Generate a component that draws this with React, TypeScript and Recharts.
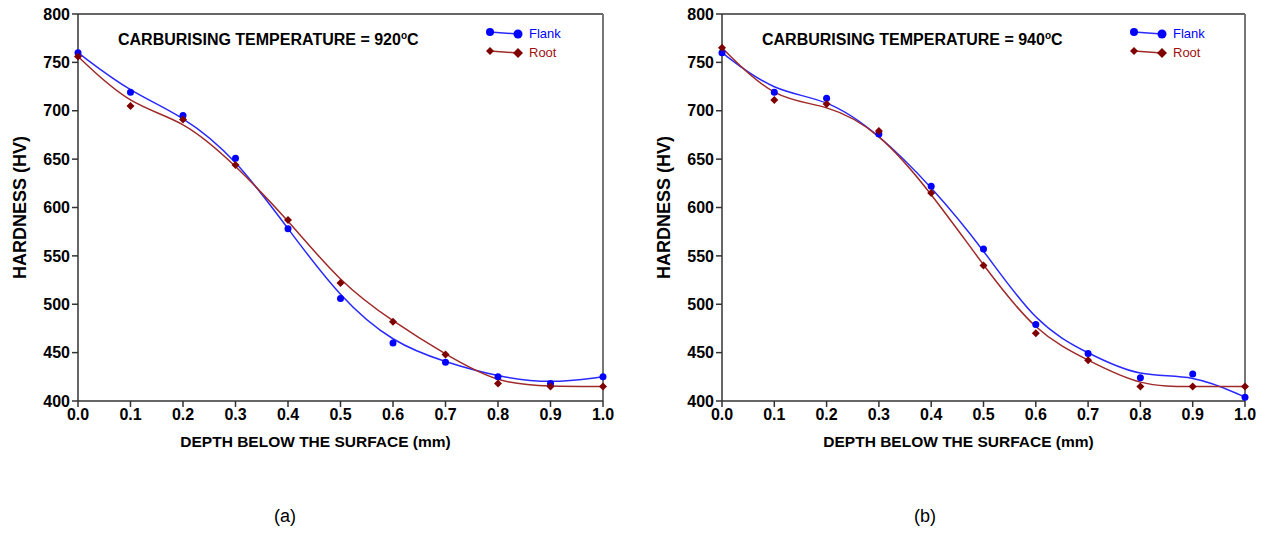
import React from "react";
import { ComposedChart, Line, XAxis, YAxis, ReferenceLine, Legend } from "recharts";

const depth = [0, 0.1, 0.2, 0.3, 0.4, 0.5, 0.6, 0.7, 0.8, 0.9, 1.0];
const flank920 = [760, 719, 695, 651, 578, 506, 460, 440, 425, 418, 425];
const root920 = [756, 705, 691, 644, 587, 522, 482, 448, 418, 415, 415];
const flank940 = [760, 719, 713, 676, 622, 557, 479, 449, 424, 428, 404];
const root940 = [765, 711, 707, 679, 615, 540, 470, 442, 415, 415, 415];
const xTicks = [0, 0.1, 0.2, 0.3, 0.4, 0.5, 0.6, 0.7, 0.8, 0.9, 1.0];
const yTicks = [400, 450, 500, 550, 600, 650, 700, 750, 800];

const FONT = "Arial, 'Liberation Sans', sans-serif";
const BLUE = "#0000ff";
const BLUE_LINE = "#2a2aff";
const RED = "#7f0000";
const RED_LINE = "#9e2a2a";

function buildRows(flank: number[], root: number[]) {
  return depth.map((d, i) => ({ depth: d, Flank: flank[i], Root: root[i] }));
}

const Diamond = (props: any) => {
  const { cx, cy } = props;
  if (cx == null || cy == null) return null;
  const s = 4;
  return <polygon points={`${cx},${cy - s} ${cx + s},${cy} ${cx},${cy + s} ${cx - s},${cy}`} fill={RED} />;
};

const Dot = (props: any) => {
  const { cx, cy } = props;
  if (cx == null || cy == null) return null;
  return <circle cx={cx} cy={cy} r={3.5} fill={BLUE} />;
};

function LegendContent() {
  return (
    <div style={{ fontFamily: FONT, fontSize: 13, lineHeight: "19px" }}>
      <div style={{ display: "flex", alignItems: "center" }}>
        <svg width={40} height={19}>
          <line x1={5} y1={8} x2={33} y2={10} stroke={BLUE_LINE} strokeWidth={1.5} />
          <circle cx={5} cy={8} r={4} fill={BLUE} />
          <circle cx={33} cy={10} r={4.5} fill={BLUE} />
        </svg>
        <span style={{ color: BLUE, marginLeft: 4 }}>Flank</span>
      </div>
      <div style={{ display: "flex", alignItems: "center" }}>
        <svg width={40} height={19}>
          <line x1={5} y1={8} x2={33} y2={10} stroke={RED_LINE} strokeWidth={1.5} />
          <polygon points="5,4 9,8 5,12 1,8" fill={RED} />
          <polygon points="33,5 38,10 33,15 28,10" fill={RED} />
        </svg>
        <span style={{ color: "#a01010", marginLeft: 4 }}>Root</span>
      </div>
    </div>
  );
}

function HardnessChart({ flank, root, temp, tag, left, plotRight, tagX }: { flank: number[]; root: number[]; temp: string; tag: string; left: number; plotRight: number; tagX: number }) {
  const data = buildRows(flank, root);
  const W = 630;
  const H = 470;
  const tickStyle = { fill: "#000", fontSize: 16, fontWeight: 700, fontFamily: FONT };
  return (
    <div style={{ position: "absolute", left, top: 0, width: W, height: 533 }}>
      <ComposedChart width={W} height={H} data={data} margin={{ top: 14, right: W - plotRight, left: 0, bottom: 23 }}>
        <XAxis
          dataKey="depth"
          type="number"
          domain={[0, 1]}
          ticks={xTicks}
          tickFormatter={(v: number) => v.toFixed(1)}
          tick={tickStyle}
          tickSize={6}
          height={46}
          stroke="#333"
          strokeWidth={1.5}
          label={{ value: "DEPTH BELOW THE SURFACE (mm)", position: "insideBottom", offset: 0, dx: -25, style: { fill: "#000", fontSize: 15.5, fontWeight: 700, fontFamily: FONT } }}
        />
        <YAxis
          type="number"
          domain={[400, 800]}
          ticks={yTicks}
          tick={tickStyle}
          tickSize={6}
          width={78}
          stroke="#333"
          strokeWidth={1.5}
          label={{ value: "HARDNESS (HV)", angle: -90, position: "insideLeft", offset: 20, style: { textAnchor: "middle", fill: "#000", fontSize: 18, fontWeight: 700, fontFamily: FONT } }}
        />
        <ReferenceLine y={800} stroke="#333" strokeWidth={1.5} />
        <ReferenceLine x={1} stroke="#777" strokeWidth={2} />
        <Legend
          verticalAlign="middle"
          align="center"
          content={<LegendContent />}
          wrapperStyle={{ left: 485, top: 24, width: 110 }}
        />
        <Line type="basis" dataKey="Flank" stroke={BLUE_LINE} strokeWidth={1.5} dot={<Dot />} activeDot={false} isAnimationActive={false} />
        <Line type="basis" dataKey="Root" stroke={RED_LINE} strokeWidth={1.5} dot={<Diamond />} activeDot={false} isAnimationActive={false} />
      </ComposedChart>
      <div style={{ position: "absolute", left: 118, top: 30, fontFamily: FONT, fontWeight: 700, fontSize: 16, whiteSpace: "nowrap" }}>
        CARBURISING TEMPERATURE = {temp}
        <sup style={{ fontSize: 10 }}>o</sup>C
      </div>
      <div style={{ position: "absolute", left: tagX - 40, width: 80, top: 506, textAlign: "center", fontFamily: FONT, fontSize: 18 }}>
        {tag}
      </div>
    </div>
  );
}

export default function App() {
  return (
    <div style={{ position: "absolute", left: 0, top: 0, width: 1266, height: 533, background: "#fff" }}>
      <HardnessChart flank={flank920} root={root920} temp="920" tag="(a)" left={0} plotRight={603} tagX={285} />
      <HardnessChart flank={flank940} root={root940} temp="940" tag="(b)" left={644} plotRight={601} tagX={281} />
    </div>
  );
}
